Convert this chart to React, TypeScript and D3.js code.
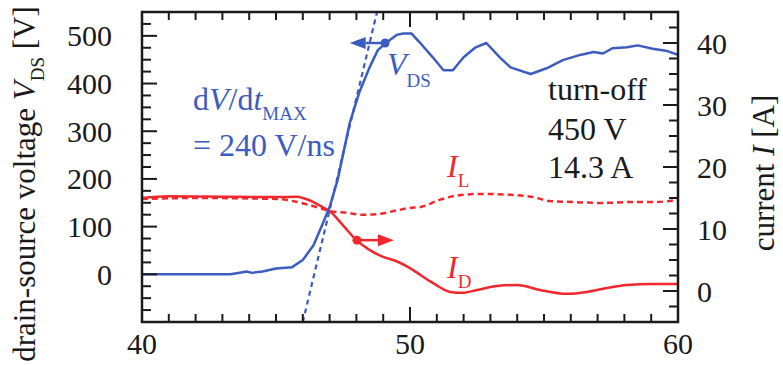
import * as React from "react";
import * as d3 from "d3";

// V_DS trace (ns, V)
const vdsTime = [40.0, 43.3, 43.7, 43.9, 44.1, 44.5, 45.0, 45.6, 46.0, 46.4, 46.75, 47.0, 47.3, 47.75, 48.1, 48.5, 48.8, 49.1, 49.5, 49.75, 50.05, 50.35, 50.85, 51.25, 51.6, 52.0, 52.45, 52.85, 53.35, 53.75, 54.5, 55.1, 55.7, 56.35, 56.85, 57.2, 57.55, 58.1, 58.5, 59.05, 59.6, 60.0];
const vdsVolt = [0, 0, 4, 6, 3, 6, 12, 15, 30, 61, 107, 141, 198, 317, 380, 435, 470, 485, 502, 505, 505, 487, 455, 428, 428, 455, 476, 485, 455, 434, 420, 432, 449, 460, 466, 463, 474, 476, 480, 473, 468, 460];

// dV/dt max tangent
const tanTime = [46.0, 48.77];
const tanVolt = [-100, 550];

// I_D trace (ns, A)
const idTime = [40.0, 41.0, 43.3, 45.0, 45.8, 46.0, 46.4, 46.75, 46.95, 47.5, 48.0, 48.5, 49.0, 49.5, 49.95, 50.1, 50.85, 51.5, 51.95, 52.5, 53.25, 54.0, 54.85, 55.85, 56.6, 57.35, 58.1, 59.0, 60.0];
const idAmp = [15.0, 15.3, 15.2, 15.15, 15.2, 15.0, 14.35, 13.5, 13.06, 10.6, 8.2, 6.6, 5.5, 4.8, 3.8, 3.4, 1.3, -0.15, -0.3, 0.16, 0.8, 0.97, 0.16, -0.45, -0.15, 0.5, 0.97, 1.13, 1.13];

// I_L trace (ns, A)
const ilTime = [40.0, 42.0, 45.0, 45.8, 46.5, 47.0, 47.65, 48.25, 48.8, 49.5, 50.0, 50.4, 51.1, 51.9, 52.7, 53.85, 54.6, 55.2, 56.1, 57.1, 58.3, 59.1, 60.0];
const ilAmp = [14.85, 15.0, 14.85, 14.35, 13.55, 12.9, 12.6, 12.3, 12.4, 13.0, 13.4, 13.55, 14.7, 15.5, 15.65, 15.5, 15.15, 14.5, 14.35, 14.2, 14.35, 14.35, 14.7];

// arrow markers: dot on trace -> arrow toward its axis
const vdsMarker = { t: 49.07, tip: 47.75, v: 485 };
const idMarker = { t: 48.02, tip: 49.4, i: 8.2 };

const xTicks = d3.range(40, 61, 1);
const xLabels = [40, 50, 60];
const vTicks = d3.range(-75, 550, 25);
const vLabels = [0, 100, 200, 300, 400, 500];
const iTicks = d3.range(-2.5, 45, 2.5);
const iLabels = [0, 10, 20, 30, 40];

const W = 783;
const H = 365;
const margin = { top: 12, right: 105, bottom: 43, left: 142 };
const BLUE = "#3d5cc0";
const RED = "#f0282d";
const INK = "#1a1a1a";
const serif = { fontFamily: '"Liberation Serif", serif' };

export default function App() {
  const x = d3.scaleLinear().domain([40, 60]).range([margin.left, W - margin.right]);
  const yV = d3.scaleLinear().domain([-100, 550]).range([H - margin.bottom, margin.top]);
  const yI = d3.scaleLinear().domain([-5, 45]).range([H - margin.bottom, margin.top]);
  const x0 = margin.left, x1 = W - margin.right, y0 = margin.top, y1 = H - margin.bottom;

  const pts = (ts: number[], vs: number[]) => ts.map((t, i) => [t, vs[i]] as [number, number]);
  const lineV = d3.line<[number, number]>().x((d) => x(d[0])).y((d) => yV(d[1]));
  const lineI = d3.line<[number, number]>().x((d) => x(d[0])).y((d) => yI(d[1])).curve(d3.curveMonotoneX);

  const arrow = (xDot: number, xTip: number, y: number, color: string) => {
    const dir = xTip > xDot ? 1 : -1;
    const head = 16;
    return (
      <g>
        <line x1={xDot} y1={y} x2={xTip - dir * head} y2={y} stroke={color} strokeWidth={2.5} />
        <path d={`M${xTip},${y} L${xTip - dir * head},${y - 6} L${xTip - dir * head},${y + 6} Z`} fill={color} />
        <circle cx={xDot} cy={y} r={4.5} fill={color} />
      </g>
    );
  };

  return (
    <svg width={W} height={H} style={{ position: "absolute", left: 0, top: 0, background: "#fff" }}>
      <defs>
        <clipPath id="plot">
          <rect x={x0} y={y0} width={x1 - x0} height={y1 - y0} />
        </clipPath>
      </defs>

      <g clipPath="url(#plot)">
        <path d={lineV(pts(tanTime, tanVolt)) || ""} fill="none" stroke={BLUE} strokeWidth={2.2} strokeDasharray="5,4" />
        <path d={lineI(pts(ilTime, ilAmp)) || ""} fill="none" stroke={RED} strokeWidth={2.5} strokeDasharray="6,4" />
        <path d={lineI(pts(idTime, idAmp)) || ""} fill="none" stroke={RED} strokeWidth={2.5} />
        <path d={lineV(pts(vdsTime, vdsVolt)) || ""} fill="none" stroke={BLUE} strokeWidth={2.5} strokeLinejoin="round" />
      </g>

      {arrow(x(vdsMarker.t), x(vdsMarker.tip), yV(vdsMarker.v), BLUE)}
      {arrow(x(idMarker.t), x(idMarker.tip), yI(idMarker.i), RED)}

      {/* ticks */}
      <g stroke={INK} strokeWidth={2}>
        {xTicks.map((t) => {
          const len = xLabels.includes(t) ? 15 : 8;
          return (
            <g key={`x${t}`}>
              <line x1={x(t)} x2={x(t)} y1={y1} y2={y1 - len} />
              <line x1={x(t)} x2={x(t)} y1={y0} y2={y0 + len} />
            </g>
          );
        })}
        {vTicks.map((v) => (
          <line key={`v${v}`} x1={x0} x2={x0 + (v % 100 === 0 ? 15 : 9)} y1={yV(v)} y2={yV(v)} />
        ))}
        {iTicks.map((a) => (
          <line key={`i${a}`} x1={x1} x2={x1 - (a % 10 === 0 ? 15 : 9)} y1={yI(a)} y2={yI(a)} />
        ))}
      </g>
      <rect x={x0} y={y0} width={x1 - x0} height={y1 - y0} fill="none" stroke={INK} strokeWidth={2.5} />

      {/* tick labels */}
      <g fontSize={30} fill={INK} style={serif}>
        {xLabels.map((t) => (
          <text key={`xl${t}`} x={x(t)} y={354} textAnchor="middle">{t}</text>
        ))}
        {vLabels.map((v) => (
          <text key={`vl${v}`} x={112} y={yV(v)} dy="0.35em" textAnchor="end">{v}</text>
        ))}
        {iLabels.map((a) => (
          <text key={`il${a}`} x={697} y={yI(a)} dy="0.35em" textAnchor="start">{a}</text>
        ))}
      </g>

      {/* axis titles */}
      <text transform="translate(35,184) rotate(-90)" textAnchor="middle" fontSize={31} fill={INK} style={serif}>
        drain-source voltage <tspan fontStyle="italic">V</tspan>
        <tspan fontSize={19} dy={9}>DS</tspan>
        <tspan dy={-9}> [V]</tspan>
      </text>
      <text transform="translate(774,173) rotate(-90)" textAnchor="middle" fontSize={31} fill={INK} style={serif}>
        current <tspan fontStyle="italic">I</tspan> [A]
      </text>

      {/* annotations */}
      <g style={serif}>
        <text x={193} y={110} fontSize={32} fill={BLUE}>
          d<tspan fontStyle="italic">V</tspan>/d<tspan fontStyle="italic">t</tspan>
          <tspan fontSize={19} dy={10}>MAX</tspan>
        </text>
        <text x={193} y={156} fontSize={32} fill={BLUE}>= 240 V/ns</text>
        <text x={387} y={75} fontSize={32} fill={BLUE}>
          <tspan fontStyle="italic">V</tspan>
          <tspan fontSize={19} dy={12}>DS</tspan>
        </text>
        <text x={447} y={177} fontSize={32} fill={RED}>
          <tspan fontStyle="italic">I</tspan>
          <tspan fontSize={19} dy={10}>L</tspan>
        </text>
        <text x={447} y={278} fontSize={32} fill={RED}>
          <tspan fontStyle="italic">I</tspan>
          <tspan fontSize={19} dy={10}>D</tspan>
        </text>
        <g fontSize={32} fill={INK}>
          <text x={548} y={100}>turn-off</text>
          <text x={548} y={140}>450 V</text>
          <text x={548} y={178}>14.3 A</text>
        </g>
      </g>
    </svg>
  );
}
